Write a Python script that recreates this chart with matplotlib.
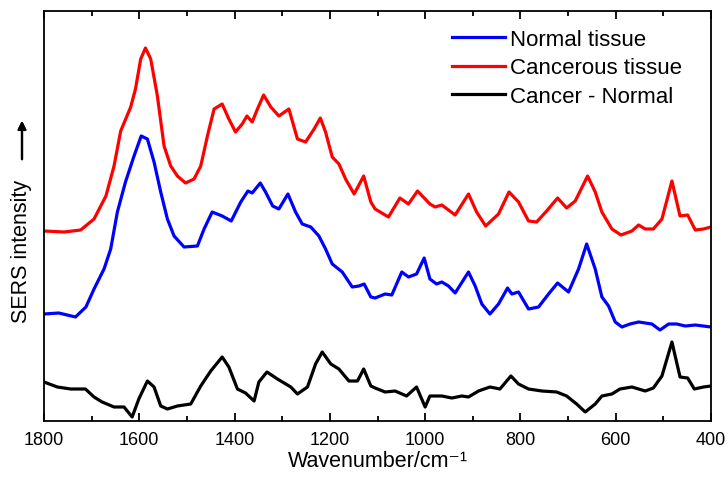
import numpy as np
import matplotlib.pyplot as plt
from matplotlib.ticker import MultipleLocator

plt.rcParams['font.family'] = ['Liberation Sans', 'DejaVu Sans']

# SERS spectra (arbitrary intensity units, offset for display)
wn_cancer = [1800, 1758, 1723, 1695, 1670, 1653, 1639, 1618, 1608, 1597, 1587, 1576,
             1562, 1548, 1534, 1520, 1503, 1485, 1471, 1457, 1443, 1426, 1412, 1398,
             1384, 1374, 1363, 1352, 1339, 1324, 1307, 1286, 1268, 1251, 1233, 1220,
             1209, 1195, 1181, 1167, 1149, 1129, 1114, 1105, 1077, 1053, 1035, 1016,
             990, 979, 965, 937, 909, 892, 873, 846, 824, 804, 783, 766, 745, 722,
             703, 685, 659, 643, 629, 608, 589, 566, 552, 538, 521, 503, 482, 465,
             449, 433, 416, 400]
int_cancer = [190, 189, 191, 202, 225, 255, 290, 314, 332, 362, 373, 362,
              325, 275, 255, 245, 238, 242, 255, 285, 312, 317, 302, 289,
              297, 305, 299, 312, 326, 314, 305, 312, 282, 279, 292, 303,
              289, 264, 257, 242, 227, 245, 219, 212, 204, 223, 217, 230,
              217, 214, 216, 206, 227, 209, 195, 207, 229, 219, 200, 199, 210, 223,
              213, 220, 245, 229, 209, 192, 186, 190, 196, 192, 192, 202, 240, 205,
              206, 191, 192, 194]

wn_normal = [1800, 1769, 1734, 1712, 1695, 1674, 1660, 1646, 1629, 1611, 1596, 1583,
             1569, 1555, 1541, 1527, 1506, 1478, 1464, 1447, 1426, 1407, 1387, 1372,
             1363, 1346, 1335, 1320, 1307, 1288, 1272, 1258, 1240, 1223, 1209, 1195,
             1174, 1153, 1139, 1128, 1114, 1105, 1084, 1070, 1049, 1035, 1018, 1002,
             990, 976, 965, 951, 937, 909, 895, 881, 864, 846, 827, 818, 804, 783,
             762, 741, 722, 699, 678, 661, 643, 629, 615, 601, 587, 570, 552, 524,
             507, 489, 472, 454, 433, 400]
int_normal = [107, 108, 104, 114, 132, 152, 172, 209, 239, 265, 285, 282,
              259, 229, 202, 185, 174, 175, 192, 209, 205, 200, 219, 230,
              228, 238, 229, 215, 212, 227, 209, 197, 194, 185, 172, 157,
              149, 134, 135, 137, 124, 123, 127, 126, 149, 144, 147, 163,
              142, 137, 139, 135, 128, 149, 135, 117, 107, 117, 133, 127, 129, 112,
              114, 127, 138, 129, 152, 177, 152, 124, 115, 99, 94, 97, 99, 97,
              91, 97, 97, 95, 96, 94]

wn_diff = [1800, 1772, 1744, 1713, 1695, 1678, 1653, 1632, 1615, 1601, 1583, 1569,
           1555, 1541, 1520, 1492, 1471, 1450, 1426, 1412, 1394, 1377, 1359, 1349,
           1332, 1310, 1282, 1268, 1247, 1230, 1216, 1198, 1181, 1160, 1142, 1129,
           1114, 1105, 1084, 1063, 1039, 1018, 1000, 990, 965, 944, 923, 909, 888,
           864, 843, 820, 804, 783, 755, 724, 703, 682, 664, 643, 629, 608, 591,
           566, 538, 521, 503, 482, 465, 449, 435, 416, 400]
int_diff = [39, 34, 32, 32, 24, 19, 14, 14, 4, 22, 40, 34,
            15, 12, 15, 17, 35, 50, 64, 54, 32, 28, 20, 39,
            49, 42, 34, 27, 34, 57, 69, 57, 52, 40, 40, 52,
            35, 33, 29, 30, 25, 34, 14, 25, 25, 23, 25, 24, 30,
            34, 32, 45, 37, 32, 30, 29, 25, 17, 9, 17, 25, 27, 32,
            34, 30, 33, 45, 79, 44, 43, 32, 34, 35]

fig = plt.figure(figsize=(7.28, 4.81), dpi=100)
ax = fig.add_axes([44 / 728, 59 / 481, 667 / 728, 410 / 481])

lw = 2.3
ax.plot(wn_normal, int_normal, color='#0000ff', lw=lw, solid_joinstyle='round', label='Normal tissue')
ax.plot(wn_cancer, int_cancer, color='#ff0000', lw=lw, solid_joinstyle='round', label='Cancerous tissue')
ax.plot(wn_diff, int_diff, color='black', lw=lw, solid_joinstyle='round', label='Cancer - Normal')

ax.set_xlim(1800, 400)
ax.set_ylim(0, 410)
ax.xaxis.set_major_locator(MultipleLocator(200))
ax.xaxis.set_minor_locator(MultipleLocator(100))
ax.tick_params(axis='x', which='both', direction='in', top=True, labelsize=13, pad=7)
ax.tick_params(axis='x', which='major', length=6, width=1.3)
ax.tick_params(axis='x', which='minor', length=3.5, width=1.3)
ax.set_yticks([])
for s in ax.spines.values():
    s.set_linewidth(1.3)

ax.set_xlabel('Wavenumber/cm\u207b\u00b9', fontsize=15.5, labelpad=2)

# y label with an upward arrow above it
fig.text(22 / 728, 1 - 251 / 481, 'SERS intensity', rotation=90, fontsize=15.5,
         ha='center', va='center')
fig.add_artist(plt.annotate('', xy=(22 / 728, 1 - 119 / 481), xytext=(22 / 728, 1 - 163 / 481),
                            xycoords='figure fraction', textcoords='figure fraction',
                            arrowprops=dict(arrowstyle='-|>', color='black', lw=1.6,
                                            mutation_scale=12)))

ax.legend(loc='upper left', bbox_to_anchor=(452 / 728, 1 - 30 / 481),
          bbox_transform=fig.transFigure, frameon=False, fontsize=16,
          handlelength=2.4, handletextpad=0.2, labelspacing=0.33,
          borderpad=0, borderaxespad=0)

fig.savefig('out.png', dpi=100)
